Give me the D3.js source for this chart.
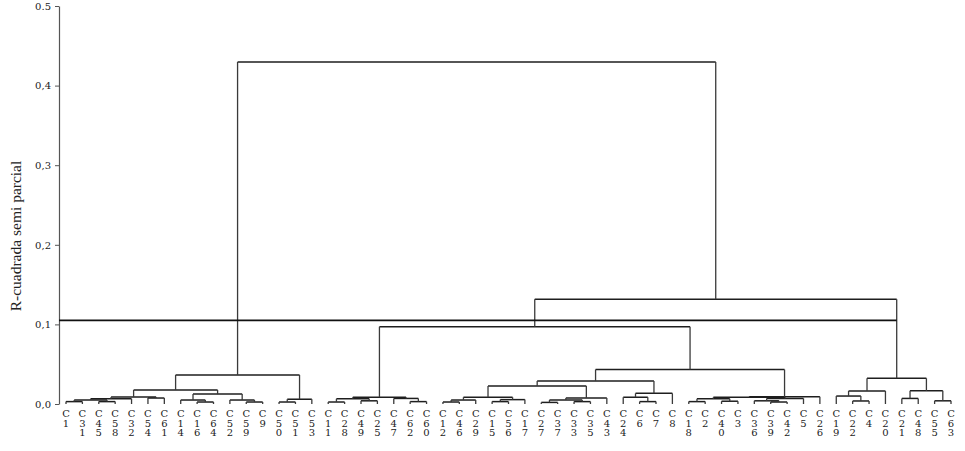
<!DOCTYPE html>
<html>
<head>
<meta charset="utf-8">
<script src="https://cdn.jsdelivr.net/npm/d3@7"></script>
<style>
  html, body { margin: 0; padding: 0; background: #fff; }
  svg { display: block; }
</style>
</head>
<body>
<svg id="chart" width="965" height="451"></svg>
<script>
// ---- data ----
const leafLabels = ["C1","C31","C45","C58","C32","C54","C61","C14","C16","C64","C52","C59","C9","C50","C51","C53",
  "C11","C28","C49","C25","C47","C62","C60","C12","C46","C29","C15","C56","C17","C27","C37","C33","C35","C43",
  "C24","C6","C7","C8","C18","C2","C40","C3","C36","C39","C42","C5","C26","C19","C22","C4","C20","C21","C48","C55","C63"];

// merges: [id, childA, childB, semi-partial R-squared]
const merges = [
  ["m1","C1","C31",0.003], ["m2","C45","C58",0.003], ["m3","m1","m2",0.005], ["m4","m3","C32",0.0065],
  ["m5","C54","C61",0.0075], ["m6","m4","m5",0.0088], ["m7","C16","C64",0.0025], ["m8","C14","m7",0.005],
  ["m9","C59","C9",0.0025], ["m10","C52","m9",0.005], ["m11","m8","m10",0.0125], ["m12","m6","m11",0.0176],
  ["m13","C50","C51",0.0025], ["m14","m13","C53",0.006], ["m15","m12","m14",0.0365],
  ["m16","C11","C28",0.0025], ["m17","C49","C25",0.004], ["m18","m16","m17",0.0065], ["m19","C62","C60",0.003],
  ["m20","C47","m19",0.007], ["m21","m18","m20",0.0085],
  ["m22","C12","C46",0.0025], ["m23","m22","C29",0.005], ["m24","C15","C56",0.003], ["m25","m24","C17",0.0055],
  ["m26","m23","m25",0.0085], ["m27","C27","C37",0.002], ["m28","C33","C35",0.003], ["m29","m27","m28",0.005],
  ["m30","m29","C43",0.0075], ["m31","m26","m30",0.0226], ["m32","C6","C7",0.003], ["m33","C24","m32",0.0085],
  ["m34","m33","C8",0.0134], ["m35","m31","m34",0.029],
  ["m36","C18","C2",0.003], ["m37","C40","C3",0.0035], ["m38","m36","m37",0.0065], ["m39","C39","C42",0.0025],
  ["m40","C36","m39",0.004], ["m41","m40","C5",0.007], ["m42","m38","m41",0.0085], ["m43","m42","C26",0.0092],
  ["m44","m35","m43",0.0433], ["m45","m21","m44",0.0971],
  ["m46","C22","C4",0.0038], ["m47","C19","m46",0.010], ["m48","m47","C20",0.0163], ["m49","C21","C48",0.007],
  ["m50","C55","C63",0.004], ["m51","m49","m50",0.0165], ["m52","m48","m51",0.0323],
  ["m53","m45","m52",0.1315], ["m54","m15","m53",0.4296]
];

const yTicks = [0, 0.1, 0.2, 0.3, 0.4, 0.5];
const yTickLabels = ["0,0", "0,1", "0,2", "0,3", "0,4", "0.5"];
const cutHeight = 0.105;
const cutEndNode = "m52";
const yTitle = "R-cuadrada semi parcial";

// ---- layout ----
const svg = d3.select("#chart");
const serif = "'Liberation Serif', 'DejaVu Serif', serif";
const wideSerif = "'DejaVu Serif', 'Liberation Serif', serif";
const x = d3.scalePoint().domain(leafLabels).range([66, 951]);
const y = d3.scaleLinear().domain([0, 0.5]).range([404, 6]);

const nodes = {};
leafLabels.forEach(l => nodes[l] = { x: x(l), h: 0 });
merges.forEach(([id, a, b, h]) => {
  nodes[id] = { x: (nodes[a].x + nodes[b].x) / 2, h: h, a: a, b: b };
});

// axis
const axis = d3.axisLeft(y).tickValues(yTicks)
  .tickFormat((d, i) => yTickLabels[i]).tickSize(4).tickSizeOuter(0).tickPadding(4);
const gAxis = svg.append("g").attr("transform", "translate(59,0)").call(axis);
gAxis.select(".domain").attr("stroke", "#555").attr("stroke-width", 1.2);
gAxis.selectAll(".tick line").attr("stroke", "#555");
gAxis.selectAll(".tick text").attr("font-family", wideSerif).attr("font-size", 10).attr("fill", "#222");

// y title
svg.append("text")
  .attr("transform", "translate(21,236) rotate(-90)")
  .attr("text-anchor", "middle")
  .attr("font-family", serif).attr("font-size", 15.5).attr("fill", "#222")
  .text(yTitle);

// dendrogram
const g = svg.append("g");
merges.forEach(([id, a, b, h]) => {
  const yn = y(h);
  g.append("line").attr("x1", nodes[a].x).attr("x2", nodes[b].x).attr("y1", yn).attr("y2", yn)
    .attr("stroke", "#1e1e1e").attr("stroke-width", 1.5);
  [a, b].forEach(c => {
    g.append("line").attr("x1", nodes[c].x).attr("x2", nodes[c].x).attr("y1", yn).attr("y2", y(nodes[c].h))
      .attr("stroke", "#3a3a3a").attr("stroke-width", 1.3);
  });
});

// cut line
svg.append("line").attr("x1", 59).attr("x2", nodes[cutEndNode].x)
  .attr("y1", y(cutHeight)).attr("y2", y(cutHeight))
  .attr("stroke", "#111").attr("stroke-width", 1.8);

// leaf labels (stacked characters)
const lab = svg.append("g").attr("font-family", wideSerif).attr("font-size", 10).attr("fill", "#222")
  .attr("text-anchor", "middle");
leafLabels.forEach(l => {
  const t = lab.append("text").attr("x", x(l)).attr("y", 417);
  l.split("").forEach((ch, i) => {
    t.append("tspan").attr("x", x(l)).attr("dy", i === 0 ? 0 : 9.5).text(ch);
  });
});
</script>
</body>
</html>
